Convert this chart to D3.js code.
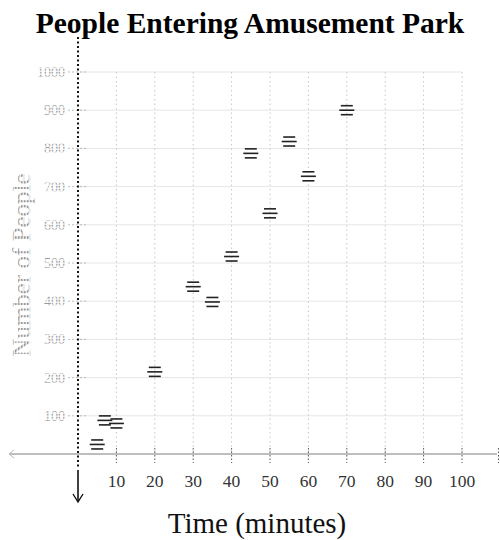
<!DOCTYPE html>
<html><head><meta charset="utf-8">
<script src="https://cdn.jsdelivr.net/npm/d3@7"></script>
<style>body{margin:0;background:#fff}</style>
</head><body>
<svg id="c" width="500" height="540"></svg>
<script>
const title = "People Entering Amusement Park";
const xTitle = "Time (minutes)";
const yTitle = "Number of People";
const times = [5, 7, 10, 20, 30, 35, 40, 45, 50, 55, 60, 70];
const people = [25, 88, 80, 215, 438, 398, 517, 787, 630, 818, 727, 900];
const xTicks = [10, 20, 30, 40, 50, 60, 70, 80, 90, 100];
const yTicks = [100, 200, 300, 400, 500, 600, 700, 800, 900, 1000];

const svg = d3.select("#c");
const x = d3.scaleLinear().domain([0, 100]).range([78, 462]);
const y = d3.scaleLinear().domain([0, 1000]).range([454, 72]);
const serif = "'Liberation Serif', 'Times New Roman', serif";

// striped pattern for faint labels
const defs = svg.append("defs");
const pat = defs.append("pattern").attr("id", "stripe").attr("patternUnits", "userSpaceOnUse")
  .attr("width", 4).attr("height", 3);
pat.append("rect").attr("width", 4).attr("height", 3).attr("fill", "#e4e4e4");
pat.append("rect").attr("width", 4).attr("height", 1.5).attr("fill", "#9a9a9a");

// horizontal gridlines
svg.append("g").selectAll("line").data(yTicks).join("line")
  .attr("x1", x(0)).attr("x2", x(100))
  .attr("y1", d => y(d)).attr("y2", d => y(d))
  .attr("stroke", "#e6e6e6").attr("stroke-width", 1);

// vertical gridlines (dotted)
svg.append("g").selectAll("line").data(xTicks).join("line")
  .attr("x1", d => x(d)).attr("x2", d => x(d))
  .attr("y1", y(1000)).attr("y2", y(0))
  .attr("stroke", "#c8c8c8").attr("stroke-width", 1).attr("stroke-dasharray", "1.5,3");

// x axis line
svg.append("line").attr("x1", 9).attr("x2", 497).attr("y1", y(0)).attr("y2", y(0))
  .attr("stroke", "#a8a8a8").attr("stroke-width", 1.5);
svg.append("path").attr("d", `M14,${y(0)-4} L9,${y(0)} L14,${y(0)+4}`)
  .attr("fill", "none").attr("stroke", "#bbb").attr("stroke-width", 1);

// x tick marks
const xt = svg.append("g").attr("transform", `translate(0,${y(0)})`);
xt.selectAll("line.t").data(xTicks.concat([109.5])).join("line").attr("class", "t")
  .attr("x1", d => x(d)).attr("x2", d => x(d)).attr("y1", -6).attr("y2", 9)
  .attr("stroke", "#555").attr("stroke-width", 1).attr("stroke-dasharray", "1.5,2");

// x tick labels
svg.append("g").selectAll("text").data(xTicks).join("text")
  .attr("x", d => x(d)).attr("y", 487)
  .attr("text-anchor", "middle").attr("font-family", serif).attr("font-size", 17.5)
  .attr("fill", "#333").text(d => d);

// y tick labels and ticks (faint, striped)
svg.append("g").selectAll("text").data(yTicks).join("text")
  .attr("x", 65).attr("y", d => y(d) + 5)
  .attr("text-anchor", "end").attr("font-family", serif).attr("font-size", 14)
  .attr("fill", "url(#stripe)").text(d => d);
svg.append("g").selectAll("line").data(yTicks).join("line")
  .attr("x1", 68).attr("x2", 86).attr("y1", d => y(d)).attr("y2", d => y(d))
  .attr("stroke", "#bbb").attr("stroke-width", 1).attr("stroke-dasharray", "2,2");

// y axis (dotted, black) with arrow at bottom
svg.append("line").attr("x1", x(0)).attr("x2", x(0)).attr("y1", 37).attr("y2", 468)
  .attr("stroke", "#111").attr("stroke-width", 2).attr("stroke-dasharray", "2,2.5");
svg.append("line").attr("x1", x(0)).attr("x2", x(0)).attr("y1", 470).attr("y2", 501)
  .attr("stroke", "#111").attr("stroke-width", 1.6);
svg.append("path").attr("d", `M${x(0)-5},${494} L${x(0)},${502} L${x(0)+5},${494}`)
  .attr("fill", "none").attr("stroke", "#111").attr("stroke-width", 1.4);

// y title
svg.append("text").attr("transform", `translate(30,265) rotate(-90)`)
  .attr("text-anchor", "middle").attr("font-family", serif).attr("font-size", 25)
  .attr("fill", "url(#stripe)").text(yTitle);

// markers: striped circles
const pts = times.map((t, i) => ({t, v: people[i]}));
const r = 7.5;
const stripes = [-4.5, 0, 4.5];
const g = svg.append("g");
pts.forEach(p => {
  const cx = x(p.t), cy = y(p.v);
  g.append("g").selectAll("line").data(stripes).join("line")
    .attr("x1", d => cx - Math.sqrt(r * r - d * d)).attr("x2", d => cx + Math.sqrt(r * r - d * d))
    .attr("y1", d => cy + d).attr("y2", d => cy + d)
    .attr("stroke", "#222").attr("stroke-width", 1.6);
});

// titles
svg.append("text").attr("x", 250).attr("y", 33).attr("text-anchor", "middle")
  .attr("font-family", serif).attr("font-size", 29.5).attr("font-weight", "bold")
  .attr("fill", "#000").text(title);
svg.append("text").attr("x", 257).attr("y", 533).attr("text-anchor", "middle")
  .attr("font-family", serif).attr("font-size", 29)
  .attr("fill", "#111").text(xTitle);
</script>
</body></html>
